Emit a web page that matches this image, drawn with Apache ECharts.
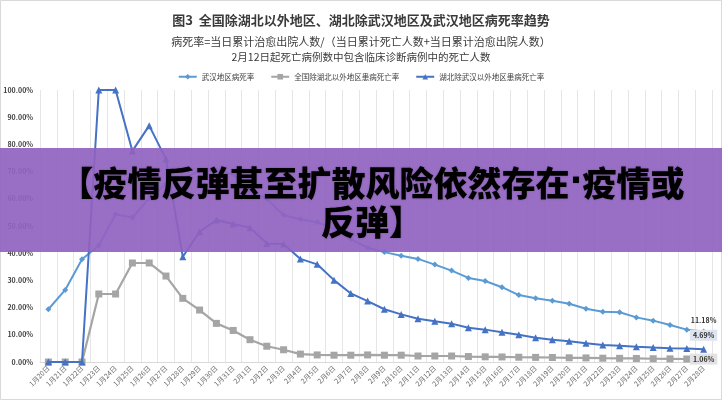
<!DOCTYPE html>
<html><head><meta charset="utf-8">
<script src="https://cdn.jsdelivr.net/npm/echarts@6/dist/echarts.min.js"></script>
<style>html,body{margin:0;padding:0;background:#fff}#c{width:722px;height:400px}</style>
</head><body><div id="c"></div>
<script>
const categories = ['1月20日','1月21日','1月22日','1月23日','1月24日','1月25日','1月26日','1月27日','1月28日','1月29日','1月30日','1月31日',
'2月1日','2月2日','2月3日','2月4日','2月5日','2月6日','2月7日','2月8日','2月9日','2月10日','2月11日','2月12日','2月13日','2月14日',
'2月15日','2月16日','2月17日','2月18日','2月19日','2月20日','2月21日','2月22日','2月23日','2月24日','2月25日','2月26日','2月27日','2月28日'];
const wuhan = [19.4,26.5,37.8,42.8,54.3,53.1,60.2,65.5,67.5,70.2,70.4,69.0,
63.0,60.0,54.0,52.5,51.4,49.0,45.2,42.0,40.4,39.1,37.9,35.8,33.6,30.9,
29.8,27.5,24.6,23.4,22.5,21.4,19.6,18.5,18.3,16.4,15.2,13.6,11.9,11.18];
const outsideHubei = [0,0,0,25.0,25.0,36.4,36.4,31.6,23.4,19.1,14.2,11.6,
8.2,5.8,4.5,2.9,2.6,2.5,2.5,2.6,2.5,2.5,2.2,2.2,2.2,2.0,
1.9,1.85,1.75,1.7,1.65,1.55,1.5,1.4,1.35,1.3,1.2,1.15,1.1,1.06];
const hubeiExWuhan = [0,0,0,100,100,77.6,86.9,74.6,38.7,47.9,52.2,50.7,
49.4,43.6,43.4,37.9,35.9,30.1,25.2,22.4,19.4,17.5,15.9,15.0,14.1,12.6,
11.9,10.9,10.0,8.9,8.2,7.6,6.9,6.25,6.0,5.6,5.3,5.1,5.0,4.69];
const yTicks = [0,10,20,30,40,50,60,70,80,90,100];
const seriesNames = ['武汉地区病死率','全国除湖北以外地区患病死亡率','湖北除武汉以外地区患病死亡率'];

const FONT = '"Noto Sans CJK SC"';
const chart = echarts.init(document.getElementById('c'));
function withEndLabel(arr, lab) {
  return arr.map((v, i) => i === arr.length - 1 ? {value: v, label: Object.assign({show: true,
    formatter: p => p.value.toFixed(2) + '%', fontSize: 7, fontWeight: 'bold', color: '#303030', fontFamily: FONT}, lab)} : v);
}
const bannerFont = {fontSize: 34, fontWeight: 900, fontFamily: FONT, color: '#fff'};
chart.setOption({
  backgroundColor: '#fff',
  animation: false,
  title: [
    {text: '图3  全国除湖北以外地区、湖北除武汉地区及武汉地区病死率趋势', left: 'center', top: 9,
     textStyle: {fontSize: 13, fontWeight: 'bold', color: '#3a3a3a', fontFamily: FONT}},
    {text: '病死率=当日累计治愈出院人数/（当日累计死亡人数+当日累计治愈出院人数）', left: 'center', top: 31,
     textStyle: {fontSize: 11, fontWeight: 'normal', color: '#3a3a3a', fontFamily: FONT}},
    {text: '2月12日起死亡病例数中包含临床诊断病例中的死亡人数', left: 'center', top: 47,
     textStyle: {fontSize: 10.5, fontWeight: 'normal', color: '#3a3a3a', fontFamily: FONT}}
  ],
  legend: {
    top: 68, left: 'center', itemWidth: 18, itemHeight: 7, itemGap: 16,
    textStyle: {fontSize: 7.5, color: '#404040', fontFamily: FONT},
    data: seriesNames
  },
  grid: {left: 40, right: 10, top: 90, bottom: 38},
  xAxis: {
    type: 'category', data: categories, boundaryGap: true,
    axisTick: {show: false},
    axisLine: {lineStyle: {color: '#d9d9d9'}},
    splitLine: {show: true, interval: 0, lineStyle: {color: '#e6e6e6'}},
    axisLabel: {interval: 0, rotate: 45, fontSize: 7, color: '#6a6a6a', margin: 5, fontFamily: FONT}
  },
  yAxis: {
    type: 'value', min: 0, max: 100, interval: 10,
    axisLine: {show: false}, axisTick: {show: false},
    splitLine: {show: false},
    axisLabel: {fontSize: 7, fontWeight: 'bold', color: '#404040', margin: 7, fontFamily: FONT,
      formatter: v => v.toFixed(2) + '%'}
  },
  series: [
    {name: seriesNames[0], type: 'line', data: withEndLabel(wuhan, {position: 'top', distance: 5}),
     symbol: 'diamond', symbolSize: 6, color: '#5b9bd5', lineStyle: {width: 2}, z: 3},
    {name: seriesNames[1], type: 'line', data: withEndLabel(outsideHubei, {position: 'inside', backgroundColor: '#e2e2e2', padding: [2, 3]}),
     symbol: 'rect', symbolSize: 7, color: '#a5a5a5', lineStyle: {width: 2.2}, z: 2},
    {name: seriesNames[2], type: 'line', data: withEndLabel(hubeiExWuhan, {position: 'top', distance: 5, backgroundColor: '#dde4ef', padding: [2, 3]}),
     symbol: 'triangle', symbolSize: 7, color: '#4472c4', lineStyle: {width: 2}, z: 4}
  ],
  graphic: [
    {type: 'rect', shape: {x: 0.5, y: 0.5, width: 721, height: 399}, style: {fill: 'none', stroke: '#d9d9d9', lineWidth: 1}, z: 1},
    {type: 'rect', shape: {x: 0, y: 148, width: 722, height: 104}, style: {fill: 'rgba(144,98,192,0.92)'}, z: 100},
    {type: 'text', x: 372, y: 183, z: 101, style: {text: '{a|【疫情反弹甚至扩散风险依然存在}{d|·}{a|疫情或}',
      align: 'center', verticalAlign: 'middle',
      rich: {a: bannerFont, d: {fontSize: 34, fontWeight: 'bold', fontFamily: '"DejaVu Sans"', color: '#fff'}},
      textShadowColor: 'rgba(0,0,0,0.25)', textShadowBlur: 2}},
    {type: 'text', x: 372, y: 222, z: 101, style: {text: '{a|反弹】}', align: 'center', verticalAlign: 'middle',
      rich: {a: bannerFont}, textShadowColor: 'rgba(0,0,0,0.25)', textShadowBlur: 2}}
  ]
});
</script></body></html>
